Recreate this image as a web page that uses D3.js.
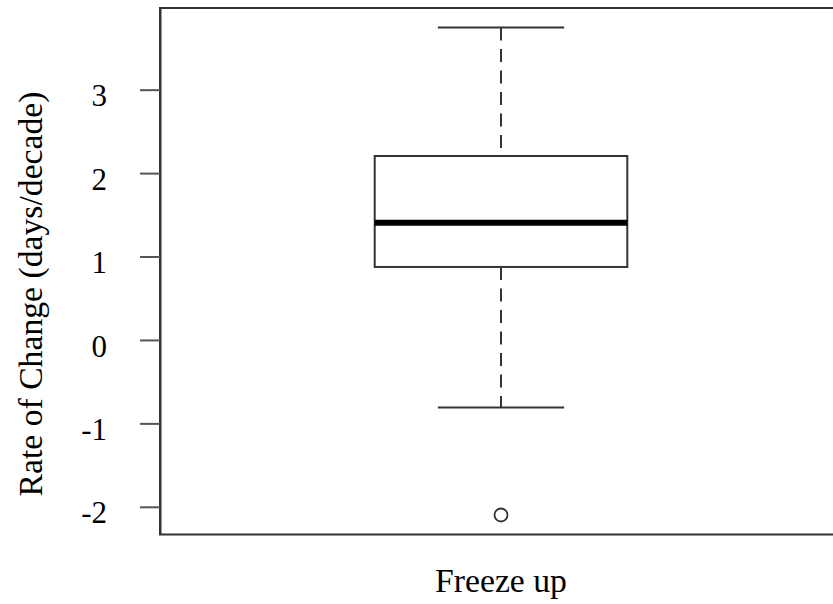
<!DOCTYPE html>
<html>
<head>
<meta charset="utf-8">
<script src="https://cdn.jsdelivr.net/npm/d3@7"></script>
<style>
  html, body { margin: 0; padding: 0; background: #fff; }
  svg { display: block; }
</style>
</head>
<body>
<script>
// ---- data ----
const categories = ["Freeze up"];
const whiskerLow = [-0.81];
const q1 = [0.875];
const median = [1.405];
const q3 = [2.205];
const whiskerHigh = [3.745];
const outliers = [[-2.098]];
const yTicks = [-2, -1, 0, 1, 2, 3];
const yLabel = "Rate of Change (days/decade)";

const W = 833, H = 604;
const svg = d3.select("body").append("svg").attr("width", W).attr("height", H);

const y = d3.scaleLinear().domain([-2.332, 3.979]).range([534.5, 8]);
const x = d3.scaleLinear().domain([0.46, 1.54]).range([160, 842]);
const lineColor = "#333";

// frame
svg.append("rect")
  .attr("x", x(0.46)).attr("y", y(3.979))
  .attr("width", x(1.54) - x(0.46)).attr("height", y(-2.332) - y(3.979))
  .attr("fill", "none").attr("stroke", lineColor).attr("stroke-width", 2);

// y axis
const yAxis = d3.axisLeft(y).tickValues(yTicks).tickFormat(d3.format("d"))
  .tickSize(20).tickSizeOuter(0).tickPadding(33);
const gy = svg.append("g").attr("transform", `translate(${x(0.46)},0)`).call(yAxis);
gy.select(".domain").attr("stroke", lineColor).attr("stroke-width", 2);
gy.selectAll(".tick line").attr("stroke", "#555").attr("stroke-width", 2);
gy.selectAll(".tick text")
  .attr("font-family", "'Liberation Serif', 'Times New Roman', serif")
  .attr("font-size", 31).attr("fill", "#000").attr("dy", "0.52em");
gy.selectAll(".tick text").text(d => d < 0 ? "-" + Math.abs(d) : String(d));

// boxes
categories.forEach((c, i) => {
  const cx = 1 + i;
  const bw = 0.2, sw = 0.1;
  const g = svg.append("g");
  // whiskers (dashed)
  g.append("line").attr("x1", x(cx)).attr("x2", x(cx))
    .attr("y1", y(whiskerHigh[i])).attr("y2", y(q3[i]))
    .attr("stroke", lineColor).attr("stroke-width", 2).attr("stroke-dasharray", "13,8.5");
  g.append("line").attr("x1", x(cx)).attr("x2", x(cx))
    .attr("y1", y(q1[i])).attr("y2", y(whiskerLow[i]))
    .attr("stroke", lineColor).attr("stroke-width", 2).attr("stroke-dasharray", "13,8.5");
  // staples
  [whiskerHigh[i], whiskerLow[i]].forEach(v => {
    g.append("line").attr("x1", x(cx - sw)).attr("x2", x(cx + sw))
      .attr("y1", y(v)).attr("y2", y(v))
      .attr("stroke", lineColor).attr("stroke-width", 2);
  });
  // box
  g.append("rect").attr("x", x(cx - bw)).attr("y", y(q3[i]))
    .attr("width", x(cx + bw) - x(cx - bw)).attr("height", y(q1[i]) - y(q3[i]))
    .attr("fill", "#fff").attr("stroke", lineColor).attr("stroke-width", 2);
  // median
  g.append("line").attr("x1", x(cx - bw)).attr("x2", x(cx + bw))
    .attr("y1", y(median[i])).attr("y2", y(median[i]))
    .attr("stroke", "#000").attr("stroke-width", 6);
  // outliers
  outliers[i].forEach(v => {
    g.append("circle").attr("cx", x(cx)).attr("cy", y(v)).attr("r", 6.5)
      .attr("fill", "none").attr("stroke", lineColor).attr("stroke-width", 1.8);
  });
  // category label
  svg.append("text").attr("x", x(cx)).attr("y", 592)
    .attr("text-anchor", "middle")
    .attr("font-family", "'Liberation Serif', 'Times New Roman', serif")
    .attr("font-size", 33.7).attr("fill", "#000").text(c);
});

// y label
svg.append("text")
  .attr("transform", "translate(42,294) rotate(-90)")
  .attr("text-anchor", "middle")
  .attr("font-family", "'Liberation Serif', 'Times New Roman', serif")
  .attr("font-size", 33.7).attr("fill", "#000").text(yLabel);
</script>
</body>
</html>
